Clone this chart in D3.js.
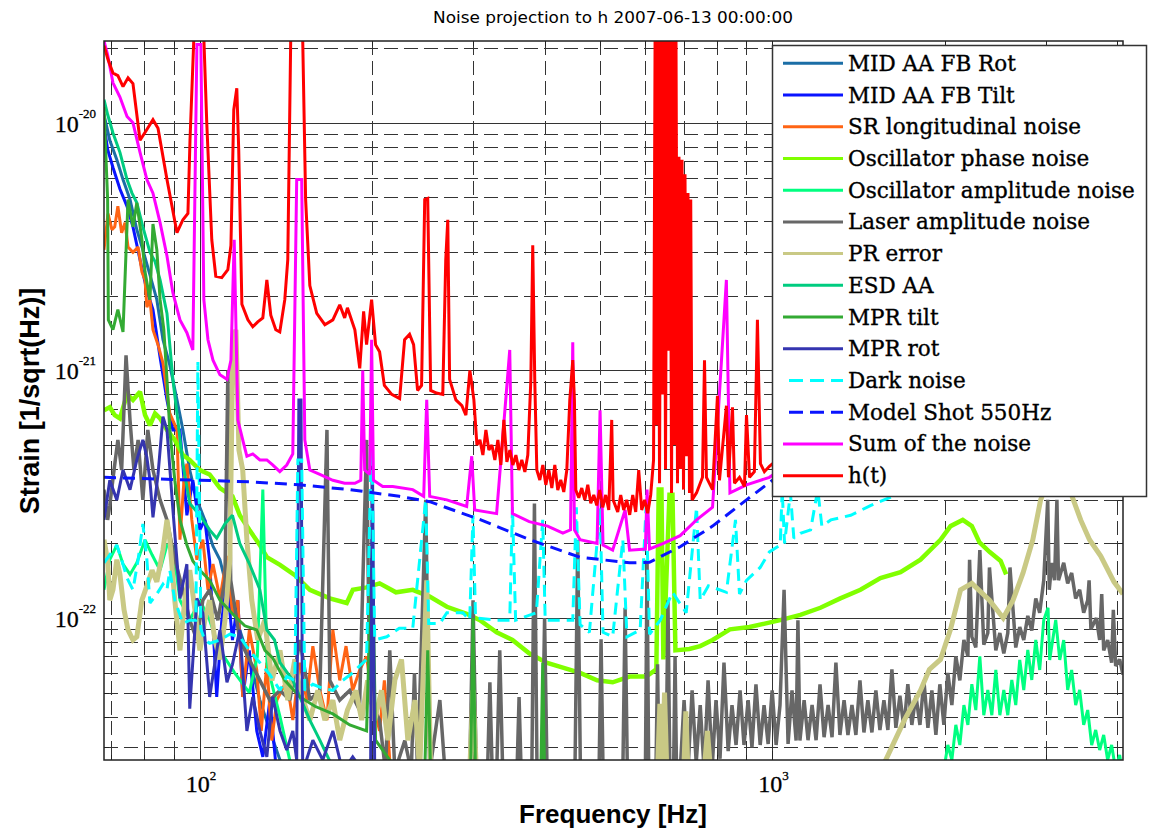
<!DOCTYPE html>
<html>
<head>
<meta charset="utf-8">
<script src="https://d3js.org/d3.v7.min.js"></script>
<style>
    body { margin: 0; background: #fff; overflow: hidden; }
    .grid line { stroke: #333; stroke-width: 1; }
    .serif { font-family: "DejaVu Serif", "Liberation Serif", serif; }
    .times { font-family: "Liberation Serif", "Times New Roman", serif; }
</style>
</head>
<body>
<svg id="chart" width="1149" height="834"></svg>
<script>
// ---- series (frequency Hz, strain 1/sqrt(Hz)) ----
const midAaFbRot = [[68,1.08e-20],[69.6,8.5e-21],[71.6,7.1e-21],[73.4,5.9e-21],[75.5,4.9e-21],[77.6,3.7e-21],[79.5,3.07e-21],[81.8,2.43e-21],[84.1,1.93e-21],[86.2,1.33e-21],[88.6,1.05e-21],[91.2,7.6e-22],[93.4,5.75e-22],[96,3.96e-22],[98.8,3e-22],[102,2.49e-22],[105.4,1.95e-22],[108.4,1.72e-22],[112.8,1.18e-22],[117.4,8.95e-23],[122,6.8e-23],[127.3,4.66e-23],[132.5,3.5e-23],[138,2.67e-23],[143.6,2.2e-23]];

const midAaFbTilt = [[68,9.8e-21],[69,7.8e-21],[70.5,6.6e-21],[72.5,5.4e-21],[74.6,4.6e-21],[76.4,3.8e-21],[78.6,2.8e-21],[80.8,2.1e-21],[82.8,1.76e-21],[85.2,1.13e-21],[87.6,7.6e-22],[89.7,5.75e-22],[92.3,5.75e-22],[94.9,2.6e-22],[97.2,3.6e-22],[100,2.27e-22],[102,2.49e-22],[104,1.7e-22],[107,4.8e-23],[109.2,9.8e-23],[111.5,1.42e-22],[114,8.15e-23],[116.5,1.18e-22],[118.8,4.8e-23],[122,7.4e-23],[125.7,3.5e-23],[128.8,2.75e-23],[132.5,4.66e-23],[136.3,2.3e-23],[140,2.2e-23]];

const srLongitudinal = [[68,3.07e-21],[69.1,4.3e-21],[70.2,3.7e-21],[71,3.8e-21],[71.9,4.6e-21],[73,3.6e-21],[74,3.95e-21],[74.9,3.15e-21],[76.4,3e-21],[78,3.15e-21],[79.2,2.5e-21],[80.2,2.32e-21],[80.8,1.8e-21],[81.8,1.93e-21],[82.8,1.46e-21],[84.5,1.27e-21],[86.2,1.07e-21],[88.6,6.7e-22],[91.2,5.75e-22],[92.3,2.07e-22],[93.8,3.6e-22],[94.9,4.2e-22],[96.8,2.49e-22],[98.8,1.72e-22],[101.2,2.07e-22],[103.3,1.3e-22],[105.4,1.65e-22],[108.4,1.2e-22],[111.5,1.78e-22],[114,1.04e-22],[116.5,1.18e-22],[118.8,4.8e-23],[122,8.95e-23],[125.7,6.17e-23],[128,3.5e-23],[130.9,6.6e-23],[133.5,3.2e-23],[136.3,4.66e-23],[141.8,5.6e-23],[145.3,3.87e-23],[149.5,6.6e-23],[153.7,4.66e-23],[157.5,7.7e-23],[162,5.1e-23],[166.7,3.87e-23],[170.7,8.95e-23],[175.5,5.6e-23],[180,7.7e-23],[184.9,5.1e-23],[190.2,6.17e-23],[195.5,7e-23],[200,4.66e-23],[206,3.5e-23],[210,5.6e-23],[214.6,2.67e-23],[219,2e-23]];

const oscPhase = [[68,6.9e-22],[69.6,7.1e-22],[71,6.6e-22],[72.5,6.4e-22],[74.6,8e-22],[76.4,7.6e-22],[78.6,8.2e-22],[80.2,6.6e-22],[81.8,6e-22],[83.5,6.7e-22],[85.2,6.4e-22],[87.6,5.75e-22],[90.4,5.24e-22],[93.4,4.55e-22],[96,4.35e-22],[100,3.96e-22],[104,3.8e-22],[108.4,3.35e-22],[114,3.1e-22],[117.4,2.6e-22],[122,2.27e-22],[127.3,1.97e-22],[130.9,1.76e-22],[138,1.64e-22],[146.5,1.49e-22],[155.6,1.3e-22],[168.6,1.2e-22],[180.5,1.15e-22],[185,1.3e-22],[195.5,1.33e-22],[206,1.38e-22],[220,1.27e-22],[235.4,1.3e-22],[252,1.22e-22],[270,1.11e-22],[292.4,1.04e-22],[308.4,9.8e-23],[329.8,8.75e-23],[351.5,8.15e-23],[376,7.2e-23],[403,6.6e-23],[430.5,6.3e-23],[461.4,6e-23],[494,5.6e-23],[526,5.5e-23],[563,5.8e-23],[602,5.8e-23],[627,6.2e-23],[633,3.3e-22],[640,3.3e-22],[645,6.8e-23],[661,3.15e-22],[669,3.15e-22],[677,7.4e-23],[716,7.5e-23],[748,7.7e-23],[786,8.15e-23],[843,9e-23],[912,9.2e-23],[1032,9.8e-23],[1119,1.03e-22],[1213,1.1e-22],[1314,1.2e-22],[1425,1.3e-22],[1544,1.45e-22],[1674,1.53e-22],[1814,1.72e-22],[1966,2.07e-22],[2047,2.35e-22],[2150,2.49e-22],[2230,2.35e-22],[2300,2.02e-22],[2394,1.85e-22],[2504,1.7e-22],[2560,1.5e-22]];

const oscAmplitude = [[68,1.3e-22],[69.6,1.72e-22],[71.6,1.97e-22],[73.4,1.65e-22],[75.5,1.5e-22],[77.6,1.67e-22],[80.2,2.07e-22],[82.5,1.8e-22],[85.2,1.56e-22],[87.6,1.97e-22],[89.7,1.95e-22],[92.3,1.18e-22],[96,9.8e-23],[100,1.18e-22],[104,9.8e-23],[108.4,7.4e-23],[115,6e-23],[122,5e-23],[126,7e-23],[128.8,3.3e-22],[131,6.5e-23],[138,4e-23],[145,2.4e-23],[160,1.5e-23],[1900,1.5e-23],[1992,2.43e-23],[2025,3.07e-23],[2058,2.67e-23],[2091,3.7e-23],[2125,3.07e-23],[2160,4.45e-23],[2195,3.7e-23],[2230,5.4e-23],[2266,4.25e-23],[2303,7e-23],[2340,4.05e-23],[2378,5.12e-23],[2417,4.05e-23],[2456,6.17e-23],[2496,4.05e-23],[2536,5.12e-23],[2577,4.05e-23],[2619,5.62e-23],[2661,4.45e-23],[2704,6.77e-23],[2748,5.12e-23],[2793,7.43e-23],[2838,5.62e-23],[2884,8.15e-23],[2930,6.17e-23],[2978,9.82e-23],[3030,1.1e-22],[3050,6.77e-23],[3125,9.82e-23],[3176,6.77e-23],[3227,8.15e-23],[3279,5.12e-23],[3332,6.17e-23],[3386,4.45e-23],[3441,5.12e-23],[3497,3.7e-23],[3554,4.25e-23],[3611,3.07e-23],[3670,3.53e-23],[3729,2.93e-23],[3790,3.37e-23],[3851,2.67e-23],[3913,3.07e-23],[3977,2.43e-23],[4041,2.8e-23],[4096,2.3e-23]];

const laserAmplitude = [[68,3.3e-22],[69,2.49e-22],[69.6,2.85e-22],[70.8,3.96e-22],[71.9,5.24e-22],[73,3.96e-22],[74.3,1.15e-21],[75.5,6.3e-22],[76.7,3.96e-22],[78,5.24e-22],[79.5,3e-22],[81.1,5.75e-22],[82.8,3.96e-22],[85.2,3e-22],[87.6,2.49e-22],[90.4,1.72e-22],[93.4,1.3e-22],[96,9.8e-23],[98.8,8.15e-23],[101.2,1.18e-22],[104,1.3e-22],[107.5,9.8e-23],[110.6,1.42e-22],[111.9,1e-21],[113.2,1.42e-22],[117.4,8.15e-23],[122,6.8e-23],[127.3,5.6e-23],[132.5,4.66e-23],[138,5.1e-23],[143.6,4.66e-23],[149.5,8.15e-23],[155.6,4.66e-23],[162,5.1e-23],[166.7,5.75e-22],[168.6,5.6e-23],[175.5,4.66e-23],[182.7,5.1e-23],[190,4.25e-23],[195.5,5.24e-22],[198,4.66e-23],[206,3.87e-23],[211,2.4e-23],[214.6,7.4e-23],[219,2.4e-23],[228,3.2e-23],[234,2.4e-23],[237,6e-23],[240,2.4e-23],[248,3e-22],[252,2.4e-23],[262.5,4.66e-23],[268,2.4e-23],[296,2.4e-23],[300,1.18e-22],[304,2.4e-23],[318,2.4e-23],[321,5.5e-23],[324,2.4e-23],[330,2.4e-23],[334,7.4e-23],[338,2.4e-23],[358,2.4e-23],[361,4.8e-23],[364,2.4e-23],[380,2.4e-23],[384,2.9e-22],[388,2.4e-23],[396,2.4e-23],[400,1e-22],[404,2.4e-23],[452,2.4e-23],[457,2.07e-22],[462,2.4e-23],[498,2.4e-23],[502,8.2e-23],[506,2.4e-23],[548,2.4e-23],[553,1.1e-22],[558,2.4e-23],[600,2.4e-23],[604,1.72e-22],[608,2.4e-23],[626,2.4e-23],[630,6.5e-23],[634,2.4e-23],[652,2.4e-23],[657,1.18e-22],[662,2.4e-23],[672,2.4e-23],[676,7e-23],[680,2.4e-23],
    [690,2.4e-23],[701,4.66e-23],[712,2.4e-23],[724,5.1e-23],[736,2.6e-23],[748,4.45e-23],[760,2.4e-23],[772,5.6e-23],[785,2.5e-23],[797,4.66e-23],[810,2.7e-23],[823,6.6e-23],[837,2.9e-23],[850,4.45e-23],[864,3.07e-23],[878,5.1e-23],[892,3.07e-23],[907,4.66e-23],[921,3e-23],[936,5.4e-23],[952,3.07e-23],[967,4.45e-23],[983,3.1e-23],[999,5.1e-23],[1015,3.07e-23],[1031,4.45e-23],[1048,1.3e-22],[1065,3.1e-23],[1082,5.1e-23],[1100,3.2e-23],[1108,9.8e-23],[1117,3.2e-23],[1136,4.66e-23],[1154,3.21e-23],[1173,4.45e-23],[1192,3.21e-23],[1211,5.4e-23],[1231,3.3e-23],[1251,4.45e-23],[1271,3.3e-23],[1291,6.6e-23],[1312,3.37e-23],[1334,4.66e-23],[1355,3.37e-23],[1377,4.45e-23],[1399,3.37e-23],[1422,5.6e-23],[1445,3.45e-23],[1468,4.66e-23],[1492,3.45e-23],[1516,5.1e-23],[1541,3.53e-23],[1566,4.66e-23],[1591,3.53e-23],[1617,6.2e-23],[1643,3.6e-23],[1670,4.85e-23],[1697,3.6e-23],[1724,5.4e-23],[1752,3.7e-23],[1781,4.85e-23],[1810,3.7e-23],[1839,5.6e-23],[1869,3.6e-23],[1899,5.1e-23],[1930,3.37e-23],[1961,5.4e-23],[1993,3.7e-23],[2025,6e-23],[2058,4.45e-23],[2091,7e-23],[2125,5.6e-23],[2160,8.15e-23],[2195,7e-23],[2210,1.72e-22],[2230,8.4e-23],[2266,7.6e-23],[2303,1.88e-22],[2340,7.8e-23],[2378,8.7e-23],[2394,1.6e-22],[2456,7.4e-23],[2496,8.7e-23],[2536,7.2e-23],[2577,8.7e-23],[2600,1.6e-22],[2661,7.6e-23],[2704,9.2e-23],[2748,8.15e-23],[2793,1.02e-22],[2838,8.9e-23],[2884,1.2e-22],[2930,1.05e-22],[2978,1.42e-22],[3026,3e-22],[3045,1.3e-22],[3075,1.67e-22],[3110,1.42e-22],[3140,3e-22],[3160,1.42e-22],[3227,1.67e-22],[3279,1.38e-22],[3332,1.52e-22],[3386,1.2e-22],[3441,1.3e-22],[3497,1.05e-22],[3554,1.18e-22],[3574,1.42e-22],[3600,9e-23],[3680,1e-22],[3729,8.15e-23],[3760,1.25e-22],[3790,7.4e-23],[3851,8.15e-23],[3913,6.6e-23],[3940,1.08e-22],[3977,6.4e-23],[4041,6.8e-23],[4096,5.9e-23]];

const prError = [[68,2.07e-22],[69,1.7e-22],[69.6,1.18e-22],[70.5,1.3e-22],[71.6,1.72e-22],[72.5,1.5e-22],[73.7,1.08e-22],[74.9,8.95e-23],[76.4,8.15e-23],[77.6,8.4e-23],[79.2,1.18e-22],[80.8,1.35e-22],[82.5,1.56e-22],[84.1,1.4e-22],[86.2,1.88e-22],[87.6,2.49e-22],[88.6,2.07e-22],[90.4,1.18e-22],[92.3,7.4e-23],[94.1,1.18e-22],[96,1.56e-22],[98,1.08e-22],[100,7.4e-23],[102,9.8e-23],[104,1.18e-22],[106.2,8.15e-23],[108.4,6.8e-23],[110.6,9.8e-23],[112.8,1.72e-22],[114.2,1.33e-21],[115.6,1.46e-21],[117,4.77e-22],[118.8,3.96e-22],[120.8,2.07e-22],[123.2,1.18e-22],[126.2,8.15e-23],[129.8,9.8e-23],[133.6,5.6e-23],[138,7.4e-23],[142.4,4.66e-23],[146.5,6.8e-23],[149.5,5.1e-23],[155.6,3.87e-23],[160.7,5.1e-23],[165.3,3.87e-23],[170.7,4.66e-23],[175.5,3.21e-23],[181,4.25e-23],[187.3,5.1e-23],[191.7,3.87e-23],[196.3,5.6e-23],[202,3.87e-23],[207.6,5.1e-23],[213,3.21e-23],[219,5.6e-23],[225,6.8e-23],[230.8,3.21e-23],[237.5,4.66e-23],[242,2.4e-23],[249,1.42e-22],[253,2.4e-23],[296,2.4e-23],[300,5.1e-23],[304,2.4e-23],[630,2.4e-23],[636,4.5e-23],[642,2.4e-23],[648,5e-23],[654,2.4e-23],[700,2.4e-23],[706,4.2e-23],[712,2.4e-23],[760,2.4e-23],[770,3.5e-23],[780,2.4e-23],[1544,2.4e-23],[1700,3.87e-23],[1814,5.1e-23],[1880,6.2e-23],[1966,6.8e-23],[2047,9e-23],[2131,1.3e-22],[2230,1.38e-22],[2394,1.18e-22],[2530,1e-22],[2632,1.18e-22],[2740,1.52e-22],[2850,2.07e-22],[2941,3e-22],[3030,3.6e-22],[3188,3.96e-22],[3306,3.29e-22],[3455,2.49e-22],[3580,2.07e-22],[3745,1.78e-22],[3950,1.4e-22],[4096,1.25e-22]];

const esdAa = [[68,1.24e-20],[69,1.08e-20],[70.5,9.1e-21],[72.5,7.6e-21],[74.6,5.9e-21],[76.1,5.2e-21],[77.6,4.75e-21],[79.5,3.8e-21],[81.8,3e-21],[83.5,2.75e-21],[85.2,2.32e-21],[87.6,1.7e-21],[89.7,9.2e-22],[91.5,6.3e-22],[93.4,4.2e-22],[96,2.9e-22],[100,2.6e-22],[104,2.27e-22],[107,2.1e-22],[110.6,2.4e-22],[114,2.6e-22],[117.4,2e-22],[122,1.66e-22],[127.3,1.3e-22],[130.9,8.95e-23],[135,8.15e-23],[138,6.6e-23],[145.3,5.6e-23],[149.5,4.8e-23],[155.6,3.87e-23],[162,3.21e-23],[172,2.4e-23]];

const mprTilt = [[68,1.16e-20],[69,4.9e-21],[69.2,1.6e-21],[70.5,1.46e-21],[71.9,1.76e-21],[73.4,1.43e-21],[74.9,4.9e-21],[76.4,3.8e-21],[77.6,4.75e-21],[79.2,3.37e-21],[80.2,2.5e-21],[81.8,1.93e-21],[82.8,3.9e-21],[84.1,3.07e-21],[85.2,1.93e-21],[86.5,1.46e-21],[87.6,9.2e-22],[88.6,5.75e-22],[90.4,3.6e-22],[92.3,2.49e-22],[94.9,1.97e-22],[97.2,1.7e-22],[100,1.56e-22],[104,1.42e-22],[108.4,1.18e-22],[114,1.04e-22],[119.8,9.3e-23],[125.7,8.95e-23],[129.9,7.4e-23],[134,6.9e-23],[140.7,5.6e-23],[149.5,4.8e-23],[158.8,4.4e-23],[170.7,4.1e-23],[182.7,3.7e-23],[195.5,3.5e-23],[200,2.07e-22],[202.7,3.21e-23],[214.6,2.67e-23],[223,2.3e-23],[247,2.3e-23],[250,7.4e-23],[253,2.3e-23],[297,2.3e-23],[300,1e-22],[303,2.3e-23],[394,2.3e-23],[397,6.6e-23],[400,2.3e-23]];

const mprRot = [[68,2.49e-22],[69.6,3.6e-22],[71.6,3e-22],[73.4,3.96e-22],[75.5,3.3e-22],[77.6,4.35e-22],[79.5,5.24e-22],[80.8,4.45e-22],[81.8,3.6e-22],[82.8,2.55e-22],[84.5,3.8e-22],[86.2,6.5e-22],[87.6,5.75e-22],[89.7,2.75e-22],[92.3,1.2e-22],[94.9,1.65e-22],[96,4.3e-23],[98.8,1.2e-22],[101.2,1.05e-22],[104,4.8e-23],[108.4,8.95e-23],[111.5,5.5e-23],[114,6.5e-23],[117.4,8.95e-23],[120.8,3.5e-23],[123.7,4.8e-23],[127.3,3.5e-23],[130.9,2.75e-23],[134,4.8e-23],[138,3.5e-23],[141.8,2.93e-23],[145.3,3.5e-23],[147.6,2.67e-23],[148.9,7.6e-22],[150.2,7.6e-22],[151.2,2.4e-23],[157.5,3.21e-23],[163.9,2.67e-23],[170.7,3.5e-23],[177.6,2.4e-23],[184.9,2.75e-23],[192.5,2.4e-23],[198.7,2.4e-23],[200,5.75e-22],[202,2.4e-23],[214.6,2e-23]];

const darkNoise = [[68,1.67e-22],[69.6,1.8e-22],[71.6,1.97e-22],[73,1.72e-22],[74.6,1.45e-22],[76.4,1.3e-22],[78,1.72e-22],[79.5,2.4e-22],[80.8,1.72e-22],[81.8,1.15e-22],[84.1,1.25e-22],[86.2,1.37e-22],[87.6,1.3e-22],[88.6,1.56e-22],[90.4,1.18e-22],[93.4,9.5e-23],[96,9.8e-23],[98.4,9.8e-23],[99.2,1.08e-21],[100.4,9e-23],[102,8.15e-23],[104,7.9e-23],[108.4,8.15e-23],[112.8,8.6e-23],[117.4,8.4e-23],[122,7.4e-23],[127.3,6.6e-23],[132.5,5.9e-23],[138,5.1e-23],[141.8,5.8e-23],[146.5,5.6e-23],[148.3,4.35e-22],[150.6,4.35e-22],[152.5,5.1e-23],[157.5,5.4e-23],[163.9,5.2e-23],[170.7,5.1e-23],[177.6,5.6e-23],[184.9,6e-23],[190,6.4e-23],[195.5,6.8e-23],[199.5,5.75e-22],[202,8.15e-23],[212,8.4e-23],[223,9.1e-23],[235.4,9.1e-23],[248,3e-22],[251,9.5e-23],[262.5,9.5e-23],[270,1.05e-22],[288,1.05e-22],[296,9.8e-23],[299.9,2.6e-22],[303,1e-22],[329.8,9.8e-23],[347.7,9.8e-23],[351.5,2.8e-22],[356,9.8e-23],[387,1.05e-22],[397,2.49e-22],[401,9.8e-23],[448,9.8e-23],[454.5,2.8e-22],[461.4,9.4e-23],[479,8.75e-23],[500,2.8e-22],[506,8.75e-23],[526,8.4e-23],[548,2.07e-22],[557,8.4e-23],[587.5,8.95e-23],[602,2.9e-22],[610,8.6e-23],[637,9.8e-23],[669,1.27e-22],[707,1.05e-22],[737,2.8e-22],[748,1.18e-22],[773,1.35e-22],[831,1.27e-22],[862,2.49e-22],[876,1.25e-22],[901,1.42e-22],[952,1.6e-22],[988,1.85e-22],[1032,1.97e-22],[1040,3.3e-22],[1050,2e-22],[1075,3.2e-22],[1090,2.1e-22],[1119,2.2e-22],[1166,2.27e-22],[1200,3.3e-22],[1220,2.35e-22],[1265,2.49e-22],[1370,2.6e-22],[1486,2.85e-22],[1621,3.1e-22],[2032,3.96e-22],[4096,6.3e-22]];

const modelShot = [[68,3.7e-22],[81.8,3.65e-22],[100,3.6e-22],[122,3.55e-22],[149.5,3.45e-22],[182.7,3.3e-22],[223,3.1e-22],[252,2.95e-22],[308,2.5e-22],[377,2.07e-22],[461,1.76e-22],[563,1.67e-22],[610,1.68e-22],[690,1.94e-22],[786,2.35e-22],[901,3e-22],[1000,3.6e-22],[1370,5.75e-22],[4096,1.45e-21]];

const sumNoise = [[68,2.14e-20],[69,1.88e-20],[70.5,1.45e-20],[72.5,1.27e-20],[74.6,1.06e-20],[76.4,1e-20],[78.6,7.6e-21],[80.8,5.9e-21],[82.8,5.2e-21],[85.2,3.95e-21],[87.6,2.9e-21],[89.7,2.06e-21],[92.3,1.6e-21],[94.9,1.42e-21],[97.2,1.21e-21],[98.8,2.07e-20],[100.4,2.07e-20],[101.6,1.93e-21],[103.3,1.33e-21],[105.4,1.1e-21],[108.4,9.6e-22],[111.5,9.2e-22],[113.3,1.1e-21],[114.8,3.37e-21],[116.5,6.3e-22],[118.8,5.24e-22],[120.8,4.5e-22],[123.7,4.6e-22],[127.3,4.35e-22],[130.9,4.35e-22],[134,4.15e-22],[137.9,3.9e-22],[141.8,4.15e-22],[145.3,4.6e-22],[147.6,5.9e-21],[150.6,5.9e-21],[152.5,5.24e-22],[155.6,3.96e-22],[162,3.8e-22],[170.7,3.6e-22],[179,3.5e-22],[186.5,3.5e-22],[191,3.6e-22],[192.5,1e-21],[194,3.96e-22],[198,3.8e-22],[199.5,1.33e-21],[201,3.6e-22],[208.6,3.4e-22],[217.2,3.4e-22],[235.4,3.3e-22],[246,3.1e-22],[249,7.6e-22],[252,3.1e-22],[270,3e-22],[292.4,2.82e-22],[298.4,4.5e-22],[302,2.73e-22],[329.8,2.64e-22],[347.7,1.21e-21],[351.5,2.64e-22],[376,2.45e-22],[405,2.35e-22],[430.5,2.2e-22],[444,2.27e-22],[448,1.3e-21],[451,2.27e-22],[461.4,2.07e-22],[494,2e-22],[500,6.9e-22],[506,1.97e-22],[526,1.88e-22],[553,2.73e-22],[563,1.88e-22],[600,1.9e-22],[604,3.3e-22],[610,1.9e-22],[645,2e-22],[690,2.15e-22],[737,2.49e-22],[786,2.8e-22],[831,2.32e-21],[843,3.2e-22],[901,3.45e-22],[988,3.7e-22],[1119,4.5e-22],[1674,6.3e-22],[4096,1.9e-21]];

const hOfT = [[68,2.05e-20],[69.1,1.8e-20],[70.5,1.59e-20],[71.9,1.55e-20],[73.4,1.4e-20],[74.9,1.52e-20],[76.4,1.44e-20],[78.6,8.5e-21],[80.8,9.4e-21],[82.8,1.03e-20],[84.5,9.5e-21],[87.6,5.9e-21],[91.2,3.6e-21],[93.4,4.06e-21],[95.3,4.3e-21],[96.1,8.5e-21],[97.6,2.2e-20],[101.6,2.2e-20],[102.8,1e-20],[104.9,3.37e-21],[106.6,2.4e-21],[109.2,2.37e-21],[111.9,2.55e-21],[113.3,3.2e-21],[114.6,1.13e-20],[116,1.38e-20],[116.9,7.8e-21],[118.4,1.85e-21],[121.3,1.6e-21],[123.7,1.5e-21],[126.2,1.57e-21],[128.8,1.63e-21],[130.9,2.32e-21],[133,1.67e-21],[135.7,1.46e-21],[137.9,1.43e-21],[140.7,1.93e-21],[142.4,2.8e-21],[144.1,2.2e-20],[151.2,2.2e-20],[153,4.9e-21],[155.6,2.2e-21],[160,1.7e-21],[165.3,1.53e-21],[170.7,1.6e-21],[175.5,1.84e-21],[179,1.63e-21],[181,1.79e-21],[186.5,1.46e-21],[190.2,1.02e-21],[193.2,1.73e-21],[195.5,1.27e-21],[199.5,1.93e-21],[202.7,1.27e-21],[206,1.19e-21],[210,8.7e-22],[216.3,8e-22],[223.3,7.7e-22],[227.8,1.33e-21],[232.4,1.4e-21],[236.2,1.27e-21],[240,8.3e-22],[243.9,8.7e-22],[247,4.9e-21],[250,4.95e-21],[253,8.3e-22],[259,8.1e-22],[265.6,8e-22],[268.8,2.8e-21],[271,4.06e-21],[273,9.2e-22],[280,7.6e-22],[286.8,7.2e-22],[291.5,6.6e-22],[296.2,1e-21],
    [301,7.6e-22],[304.7,5e-22],[308.4,5.24e-22],[312.1,4.55e-22],[315.9,5.75e-22],[319.7,4.77e-22],[323.6,5e-22],[327.5,4.35e-22],[331.5,5.24e-22],[335.5,4.15e-22],[339.6,6.31e-22],[343.7,4.27e-22],[347.9,4.77e-22],[352.1,4.15e-22],[356.4,4.55e-22],[360.7,3.96e-22],[365,4.35e-22],[369.5,3.89e-22],[373.9,4.55e-22],[378.5,9.16e-22],[381.4,3.2e-21],[384.5,9.16e-22],[387.7,3.96e-22],[392.4,3.61e-22],[397.2,4.15e-22],[402,3.45e-22],[406.9,3.96e-22],[411.8,3.35e-22],[416.8,4.15e-22],[421.8,3.29e-22],[426.9,3.61e-22],[432.1,3.23e-22],[437.4,3.96e-22],[442.7,7.6e-22],[448,1.1e-21],[451,7.6e-22],[453.5,3.29e-22],[459,3.06e-22],[464.5,3.35e-22],[470.2,3e-22],[475.9,3.45e-22],[481.6,2.91e-22],[487.5,3.14e-22],[493.4,2.85e-22],[499.4,3.29e-22],[505.4,2.8e-22],[511.5,3.14e-22],[517.8,2.73e-22],[524,6.31e-22],[527,3e-22],[536.8,2.68e-22],[543.3,3.14e-22],[549.9,2.73e-22],[556.6,3e-22],[563.3,2.61e-22],[570.2,3.14e-22],[577.1,2.68e-22],[584.1,3.96e-22],[591.2,2.73e-22],[598.3,3e-22],[605.6,2.65e-22],[612.9,3.14e-22],
    [620,4.35e-22],[623.8,2.2e-20],[627.5,6e-22],[631.3,2.2e-20],[635.1,3.5e-22],[638.9,2.2e-20],[642.8,8e-22],[646.7,2.2e-20],[650.6,4e-22],[654.5,2.2e-20],[658.5,1.2e-21],[662.5,2.2e-20],[666.5,3.2e-22],[670.5,2.2e-20],[674.5,5e-22],[678.6,2.2e-20],[682.7,3.5e-22],[686.8,7.3e-21],[691,4e-22],[695.2,7.1e-21],[699.4,3.3e-22],[703.6,6.2e-21],[707.9,4.5e-22],[712.1,5.2e-21],[716.4,3.2e-22],[720,4.9e-21],[724,3e-22],[737,3.2e-22],[754.9,3.7e-22],[761,1.1e-21],[767,3.7e-22],[786,3.3e-22],[801.7,7.9e-22],[808.2,3.6e-22],[831.2,7.2e-22],[838,3.7e-22],[851.6,7.1e-22],[858.5,3.5e-22],[876,3.7e-22],[893.8,3.4e-22],[901,6.6e-22],[912,3.7e-22],[930,3.9e-22],[941.5,1.6e-21],[953,4.2e-22],[968.3,3.9e-22],[988,4.1e-22],[1119,5.2e-22],[1674,8e-22],[4096,2e-21]];

const names = ["MID AA FB Rot", "MID AA FB Tilt", "SR longitudinal noise", "Oscillator phase noise",
    "Oscillator amplitude noise", "Laser amplitude noise", "PR error", "ESD AA", "MPR tilt", "MPR rot",
    "Dark noise", "Model Shot 550Hz", "Sum of the noise", "h(t)"];
const seriesData = [midAaFbRot, midAaFbTilt, srLongitudinal, oscPhase, oscAmplitude, laserAmplitude,
    prError, esdAa, mprTilt, mprRot, darkNoise, modelShot, sumNoise, hOfT];
const colors = ["#1b6ea6", "#0a14ff", "#ff6414", "#80ff00", "#00ff80", "#676767",
    "#c9c985", "#00cc80", "#33aa33", "#3535b0", "#00ffff", "#0a14ff", "#ff00ff", "#ff0000"];
const dashed = [false, false, false, false, false, false, false, false, false, false, true, true, false, false];
const widths = [3, 3, 3, 4.5, 3, 3.5, 5, 3, 3, 3, 3, 3, 3, 3];

const xTicks = [100, 1000];
const yTicks = [1e-22, 1e-21, 1e-20];

// ---- layout ----
const svg = d3.select("#chart");
const plot = { left: 104, right: 1123, top: 41, bottom: 760 };

const x = d3.scaleLog().domain([68, 4096]).range([plot.left, plot.right]);
const y = d3.scaleLog().domain([2.67e-23, 2.14e-20]).range([plot.bottom, plot.top]);

svg.append("rect").attr("width", 1149).attr("height", 834).attr("fill", "#fff");

svg.append("defs").append("clipPath").attr("id", "clip")
    .append("rect")
    .attr("x", plot.left).attr("y", plot.top)
    .attr("width", plot.right - plot.left).attr("height", plot.bottom - plot.top);

// minor / major grid values
function logSteps(lo, hi) {
    let out = [];
    for (let e = Math.floor(Math.log10(lo)); e <= Math.ceil(Math.log10(hi)); e++) {
        for (let m = 1; m <= 9; m++) {
            let v = m * Math.pow(10, e);
            if (v >= lo && v <= hi) out.push({ v: v, major: m === 1 });
        }
    }
    return out;
}
const xGrid = logSteps(68, 4096);
const yGrid = logSteps(2.67e-23, 2.14e-20);

const grid = svg.append("g").attr("class", "grid");
grid.selectAll(".gx").data(xGrid).enter().append("line")
    .attr("x1", d => Math.round(x(d.v)) + 0.5).attr("x2", d => Math.round(x(d.v)) + 0.5)
    .attr("y1", plot.top).attr("y2", plot.bottom)
    .attr("stroke-dasharray", d => d.major ? null : "14,6");
grid.selectAll(".gy").data(yGrid).enter().append("line")
    .attr("y1", d => Math.round(y(d.v)) + 0.5).attr("y2", d => Math.round(y(d.v)) + 0.5)
    .attr("x1", plot.left).attr("x2", plot.right)
    .attr("stroke-dasharray", d => d.major ? null : "14,6");

// ticks (inside, all four sides)
const ticks = svg.append("g").attr("stroke", "#222").attr("stroke-width", 1);
xGrid.forEach(d => {
    let len = d.major ? 9 : 5, px = Math.round(x(d.v)) + 0.5;
    ticks.append("line").attr("x1", px).attr("x2", px).attr("y1", plot.bottom).attr("y2", plot.bottom - len);
    ticks.append("line").attr("x1", px).attr("x2", px).attr("y1", plot.top).attr("y2", plot.top + len);
});
yGrid.forEach(d => {
    let len = d.major ? 9 : 5, py = Math.round(y(d.v)) + 0.5;
    ticks.append("line").attr("y1", py).attr("y2", py).attr("x1", plot.left).attr("x2", plot.left + len);
    ticks.append("line").attr("y1", py).attr("y2", py).attr("x1", plot.right).attr("x2", plot.right - len);
});

// series
const line = d3.line().x(d => x(d[0])).y(d => y(d[1]));
const lines = svg.append("g").attr("clip-path", "url(#clip)");
seriesData.forEach((s, i) => {
    lines.append("path")
        .attr("d", line(s))
        .attr("fill", "none")
        .attr("stroke", colors[i])
        .attr("stroke-width", widths[i])
        .attr("stroke-linejoin", "miter")
        .attr("stroke-miterlimit", 2)
        .attr("stroke-dasharray", dashed[i] ? "12,7" : null);
});

// axes box
svg.append("rect")
    .attr("x", plot.left).attr("y", plot.top)
    .attr("width", plot.right - plot.left).attr("height", plot.bottom - plot.top)
    .attr("fill", "none").attr("stroke", "#222").attr("stroke-width", 1.5);

// tick labels
xTicks.forEach(t => {
    let e = Math.round(Math.log10(t));
    let txt = svg.append("text").attr("class", "times")
        .attr("x", x(t) + 1).attr("y", 792)
        .attr("text-anchor", "middle").attr("font-size", 24).attr("fill", "#000")
        .attr("stroke", "#000").attr("stroke-width", 0.3)
        .text("10");
    txt.append("tspan").attr("dy", -12).attr("font-size", 13).text(e);
});
yTicks.forEach(t => {
    let e = Math.round(Math.log10(t));
    let txt = svg.append("text").attr("class", "times")
        .attr("x", 96).attr("y", y(t) + 9)
        .attr("text-anchor", "end").attr("font-size", 24).attr("fill", "#000")
        .attr("stroke", "#000").attr("stroke-width", 0.3)
        .text("10");
    txt.append("tspan").attr("dy", -14).attr("font-size", 13).text(e);
});

// titles
svg.append("text")
    .attr("x", 613).attr("y", 23)
    .attr("text-anchor", "middle")
    .attr("font-family", "DejaVu Sans, sans-serif").attr("font-size", 15)
    .attr("textLength", 360).attr("lengthAdjust", "spacingAndGlyphs")
    .text("Noise projection to h 2007-06-13 00:00:00");

svg.append("text")
    .attr("x", 613).attr("y", 823)
    .attr("text-anchor", "middle")
    .attr("font-family", "Liberation Sans, Arial, sans-serif").attr("font-weight", "bold").attr("font-size", 26)
    .text("Frequency [Hz]");

svg.append("text")
    .attr("transform", "translate(39,401) rotate(-90)")
    .attr("text-anchor", "middle")
    .attr("font-family", "Liberation Sans, Arial, sans-serif").attr("font-weight", "bold").attr("font-size", 27)
    .text("Strain [1/sqrt(Hz)]");

// legend
const legend = svg.append("g");
legend.append("rect")
    .attr("x", 772.5).attr("y", 45.5).attr("width", 374).attr("height", 451)
    .attr("fill", "#fff").attr("stroke", "#333").attr("stroke-width", 1.5);

names.forEach((n, i) => {
    let ry = 63.3 + i * 31.72;
    legend.append("line")
        .attr("x1", dashed[i] ? 789 : 783).attr("x2", 843)
        .attr("y1", ry).attr("y2", ry)
        .attr("stroke", colors[i]).attr("stroke-width", 3)
        .attr("stroke-dasharray", dashed[i] ? "14,7" : null);
    legend.append("text").attr("class", "serif")
        .attr("x", 848).attr("y", ry + 7.5)
        .attr("font-size", 21.5).attr("fill", "#000")
        .attr("stroke", "#000").attr("stroke-width", 0.35)
        .text(n);
});
</script>
</body>
</html>
